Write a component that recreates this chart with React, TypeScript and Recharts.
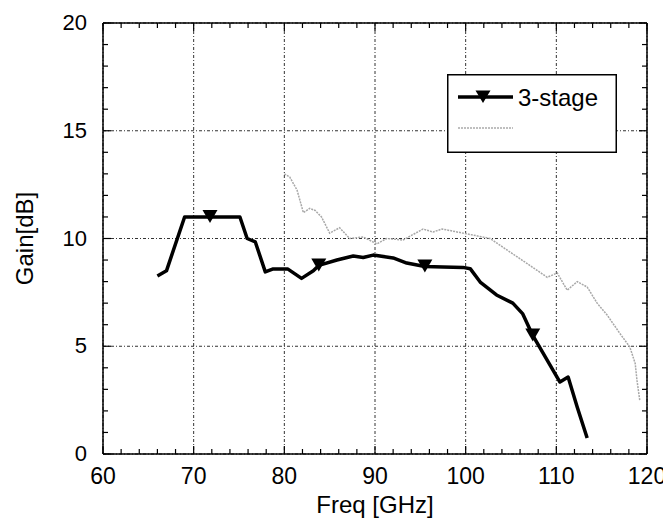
import React from "react";
import { LineChart, Line, XAxis, YAxis, CartesianGrid, Legend } from "recharts";

// 3-stage amplifier gain
const stageFreq = [66, 67, 69, 71.8, 75.1, 75.9, 76.8, 77.9, 78.7, 80.4, 81.9, 83.2, 83.8, 85.8, 87.6, 88.7, 89.8, 92.0, 93.5, 95.5, 97.5, 99.7, 100.5, 101.6, 103.4, 105.2, 106.3, 107.4, 110.4, 111.3, 112.3, 113.4];
const stageGain = [8.26, 8.5, 11.0, 11.0, 11.0, 10.0, 9.84, 8.45, 8.58, 8.58, 8.15, 8.5, 8.75, 9.0, 9.19, 9.12, 9.23, 9.1, 8.86, 8.7, 8.68, 8.66, 8.6, 7.98, 7.38, 7.0, 6.5, 5.5, 3.34, 3.57, 2.18, 0.74];
const markerFreq = [71.8, 83.8, 95.5, 107.4];

// second (grey, dotted) trace
const greyFreq = [80.0, 80.6, 81.4, 82.1, 82.8, 83.4, 84.1, 85.0, 86.1, 87.2, 88.7, 90.2, 91.3, 93.1, 95.3, 96.4, 97.4, 99.7, 100.8, 102.7, 104.9, 106.7, 109.0, 110.1, 111.2, 112.3, 113.4, 114.5, 115.6, 117.0, 118.1, 118.7, 118.9, 119.2];
const greyGain = [13.0, 12.85, 12.25, 11.2, 11.4, 11.3, 11.0, 10.25, 10.5, 10.0, 10.07, 9.75, 10.0, 9.93, 10.44, 10.3, 10.44, 10.25, 10.16, 10.0, 9.37, 8.86, 8.2, 8.4, 7.6, 8.0, 7.75, 7.0, 6.45, 5.6, 4.97, 4.2, 3.4, 2.5];

const xLabels = [60, 70, 80, 90, 100, 110, 120];
const xMinorTicks = [62, 64, 66, 68, 72, 74, 76, 78, 82, 84, 86, 88, 92, 94, 96, 98, 102, 104, 106, 108, 112, 114, 116, 118];
const yLabels = [0, 5, 10, 15, 20];
const yMinorTicks = [1, 2, 3, 4, 6, 7, 8, 9, 11, 12, 13, 14, 16, 17, 18, 19];

const stageName = "3-stage";

const stageData = stageFreq.map((f, i) => ({ freq: f, gain: stageGain[i], marker: markerFreq.includes(f) }));
const greyData = greyFreq.map((f, i) => ({ freq: f, gain: greyGain[i] }));

const X_MIN = 60;
const X_MAX = 120;
const Y_MIN = 0;
const Y_MAX = 20;

const FONT = "'Liberation Sans', Arial, Helvetica, sans-serif";
const W = 663;
const H = 511;
const M = { top: 15, right: 24, left: 0, bottom: 0 };
const Y_AXIS_W = 95;
const X_AXIS_H = 65;
const PLOT_W = W - M.left - M.right - Y_AXIS_W;
const PLOT_H = H - M.top - M.bottom - X_AXIS_H;
const PX_X = PLOT_W / (X_MAX - X_MIN);
const PX_Y = PLOT_H / (Y_MAX - Y_MIN);
const MINOR = 5;
const MAJOR = 8;
const FRAME = { stroke: "#000", strokeWidth: 1.5 };
const TICK = { stroke: "#000", strokeWidth: 1.2 };

// bottom axis: label + inward ticks on bottom and top edges (+ top frame line)
const BottomTick = (p: any) => {
  const v = p.payload.value;
  const x = p.x;
  const yb = p.y;
  const yt = p.y - PLOT_H;
  const minors = xMinorTicks.filter((t) => t > v && t < v + 10);
  return (
    <g>
      {v === X_MIN && <line x1={x} x2={x + PLOT_W} y1={yt} y2={yt} {...FRAME} />}
      <line x1={x} x2={x} y1={yb} y2={yb - MAJOR} {...TICK} />
      <line x1={x} x2={x} y1={yt} y2={yt + MAJOR} {...TICK} />
      {minors.map((t) => {
        const mx = x + (t - v) * PX_X;
        return (
          <g key={t}>
            <line x1={mx} x2={mx} y1={yb} y2={yb - MINOR} {...TICK} />
            <line x1={mx} x2={mx} y1={yt} y2={yt + MINOR} {...TICK} />
          </g>
        );
      })}
      <text x={x} y={yb + 30} textAnchor="middle" fontSize={23} fontFamily={FONT} fill="#000">
        {v}
      </text>
    </g>
  );
};

// left axis: label + inward ticks on left and right edges (+ right frame line)
const LeftTick = (p: any) => {
  const v = p.payload.value;
  const xl = p.x;
  const xr = p.x + PLOT_W;
  const y = p.y;
  const minors = yMinorTicks.filter((t) => t > v && t < v + 5);
  return (
    <g>
      {v === Y_MIN && <line x1={xr} x2={xr} y1={y} y2={y - PLOT_H} {...FRAME} />}
      <line x1={xl} x2={xl + MAJOR} y1={y} y2={y} {...TICK} />
      <line x1={xr} x2={xr - MAJOR} y1={y} y2={y} {...TICK} />
      {minors.map((t) => {
        const my = y - (t - v) * PX_Y;
        return (
          <g key={t}>
            <line x1={xl} x2={xl + MINOR} y1={my} y2={my} {...TICK} />
            <line x1={xr} x2={xr - MINOR} y1={my} y2={my} {...TICK} />
          </g>
        );
      })}
      <text x={xl - 16} y={y + 7} textAnchor="end" fontSize={22} fontFamily={FONT} fill="#000">
        {v}
      </text>
    </g>
  );
};

const Marker = (p: any) => {
  if (!p.payload || !p.payload.marker) return <g key={`m${p.index}`} />;
  const { cx, cy } = p;
  return <path key={`m${p.index}`} d={`M${cx - 7.5},${cy - 7} L${cx + 7.5},${cy - 7} L${cx},${cy + 6} Z`} fill="#000" />;
};

const LegendBox = () => (
  <svg width={170} height={79} style={{ display: "block" }}>
    <rect x={0.75} y={0.75} width={168.5} height={77.5} fill="#fff" stroke="#000" strokeWidth={1.5} />
    <line x1={11} x2={66} y1={23} y2={23} stroke="#000" strokeWidth={3.5} />
    <path d="M28.5,16.5 L43.5,16.5 L36,29 Z" fill="#000" />
    <text x={71} y={32} fontSize={24} fontFamily={FONT} fill="#000">
      {stageName}
    </text>
    <line x1={11} x2={66} y1={54} y2={54} stroke="#aaa" strokeWidth={1.5} strokeDasharray="2 1" />
  </svg>
);

export default function App() {
  return (
    <div style={{ width: W, height: H, background: "#fff" }}>
      <LineChart width={W} height={H} margin={M}>
        <CartesianGrid xAxisId="b" yAxisId="l" stroke="#333" strokeWidth={1} strokeDasharray="3 2 1 2" />
        <XAxis
          xAxisId="b"
          dataKey="freq"
          type="number"
          domain={[X_MIN, X_MAX]}
          allowDataOverflow
          ticks={xLabels}
          interval={0}
          height={X_AXIS_H}
          tickSize={0}
          tickMargin={0}
          tickLine={false}
          axisLine={FRAME}
          tick={BottomTick}
          label={(props: any) => {
            const vb = props.viewBox;
            return (
              <text x={vb.x + vb.width / 2} y={vb.y + 59} textAnchor="middle" fontSize={24} fontFamily={FONT} fill="#000">
                Freq [GHz]
              </text>
            );
          }}
        />
        <YAxis
          yAxisId="l"
          type="number"
          domain={[Y_MIN, Y_MAX]}
          allowDataOverflow
          ticks={yLabels}
          interval={0}
          width={Y_AXIS_W}
          tickSize={0}
          tickMargin={0}
          tickLine={false}
          axisLine={FRAME}
          tick={LeftTick}
          label={(props: any) => {
            const vb = props.viewBox;
            const cy = vb.y + vb.height / 2;
            return (
              <text x={25} y={cy} transform={`rotate(-90, 25, ${cy})`} textAnchor="middle" fontSize={24} fontFamily={FONT} fill="#000">
                Gain[dB]
              </text>
            );
          }}
        />
        <Line
          xAxisId="b"
          yAxisId="l"
          data={greyData}
          dataKey="gain"
          type="linear"
          stroke="#a8a8a8"
          strokeWidth={1.5}
          strokeDasharray="2 1"
          dot={false}
          isAnimationActive={false}
        />
        <Line
          xAxisId="b"
          yAxisId="l"
          data={stageData}
          dataKey="gain"
          name={stageName}
          type="linear"
          stroke="#000"
          strokeWidth={3.5}
          strokeLinejoin="round"
          dot={Marker}
          activeDot={false}
          isAnimationActive={false}
        />
        <Legend
          layout="horizontal"
          verticalAlign="middle"
          align="center"
          wrapperStyle={{ position: "absolute", left: 439, top: 66, width: 170, height: 79 }}
          content={() => <LegendBox />}
        />
      </LineChart>
    </div>
  );
}
